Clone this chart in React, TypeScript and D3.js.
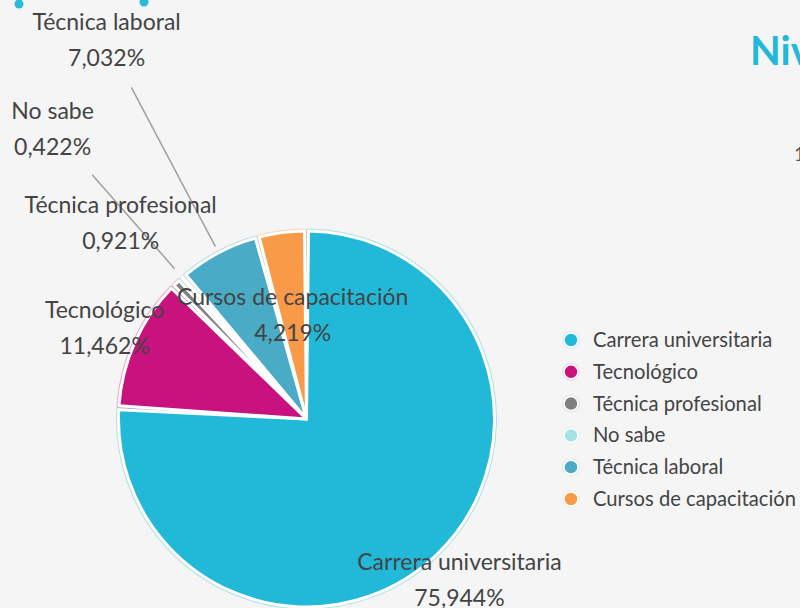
import React from 'react';
import * as d3 from 'd3';

// datos del gráfico
const categories = [
  'Carrera universitaria',
  'Tecnológico',
  'Técnica profesional',
  'No sabe',
  'Técnica laboral',
  'Cursos de capacitación',
];
const values = [75.944, 11.462, 0.921, 0.422, 7.032, 4.219];
const colors = ['#22b9d9', '#c8137e', '#808080', '#a4e2e6', '#4aabc7', '#f89a48'];

// ubicación de las etiquetas (radio desde el centro) y líneas guía
const labelRadius = [223, 221, 269, 385, 428, 104];
const guideLines: ([number, number] | null)[] = [null, null, null, [200, 325], [195, 375], null];

const W = 800;
const H = 608;
const cx = 306.5;
const cy = 419;
const R = 188;
const FONT = "'Source Sans Pro', Lato, 'Noto Sans', sans-serif";

const fmt = (v: number) => v.toFixed(3).replace('.', ',') + '%';

export default function App() {
  const pie = d3.pie<number>().sort(null).value((d) => d);
  const arcs = pie(values);
  const arc = d3.arc<d3.PieArcDatum<number>>()
    .innerRadius(0)
    .outerRadius(R)
    .padAngle(4 / R)
    .padRadius(R);

  const polar = (a: number, r: number): [number, number] => [
    cx + r * Math.sin(a),
    cy - r * Math.cos(a),
  ];

  const legendY = d3.scaleLinear().domain([0, 5]).range([340, 499]);

  return (
    <svg
      width={W}
      height={H}
      style={{ position: 'fixed', left: 0, top: 0, fontFamily: FONT }}
    >
      <rect width={W} height={H} fill="#f5f5f5" />

      {/* puntos decorativos */}
      <circle cx={19} cy={4} r={4.5} fill="#2bbbd8" />
      <circle cx={144} cy={2} r={4.5} fill="#2bbbd8" />

      <text x={750} y={65} fontSize={40} fontWeight={700} fill="#22b9d9">Nivel</text>
      <text x={794} y={161} fontSize={19} fill="#555">1</text>

      {/* líneas guía */}
      {arcs.map((a, i) => {
        const g = guideLines[i];
        if (!g) return null;
        const m = (a.startAngle + a.endAngle) / 2;
        const [x1, y1] = polar(m, g[0]);
        const [x2, y2] = polar(m, g[1]);
        return <line key={'l' + i} x1={x1} y1={y1} x2={x2} y2={y2} stroke="#a0a0a0" strokeWidth={1.5} />;
      })}

      {/* porciones */}
      <g transform={`translate(${cx},${cy})`}>
        {arcs.map((a, i) => (
          <path
            key={'o' + i}
            d={arc(a) || ''}
            fill="none"
            stroke={colors[i]}
            strokeOpacity={0.35}
            strokeWidth={5}
            strokeLinejoin="round"
          />
        ))}
        {arcs.map((a, i) => (
          <path
            key={'s' + i}
            d={arc(a) || ''}
            fill={colors[i]}
            stroke="#ffffff"
            strokeWidth={3}
            strokeLinejoin="round"
          />
        ))}
      </g>

      {/* etiquetas */}
      {arcs.map((a, i) => {
        const m = (a.startAngle + a.endAngle) / 2;
        const [x, y] = polar(m, labelRadius[i]);
        return (
          <g key={'t' + i} fill="#444" fontSize={23} textAnchor="middle">
            <text x={x} y={y - 11}>{categories[i]}</text>
            <text x={x} y={y + 25}>{fmt(values[i])}</text>
          </g>
        );
      })}

      {/* leyenda */}
      {categories.map((c, i) => (
        <g key={'g' + i} transform={`translate(571,${legendY(i)})`}>
          <circle r={9} fill={colors[i]} fillOpacity={0.12} />
          <circle r={7} fill={colors[i]} stroke="#fff" strokeWidth={1.5} />
          <text x={22} y={7} fontSize={20.2} fill="#444">{c}</text>
        </g>
      ))}
    </svg>
  );
}
